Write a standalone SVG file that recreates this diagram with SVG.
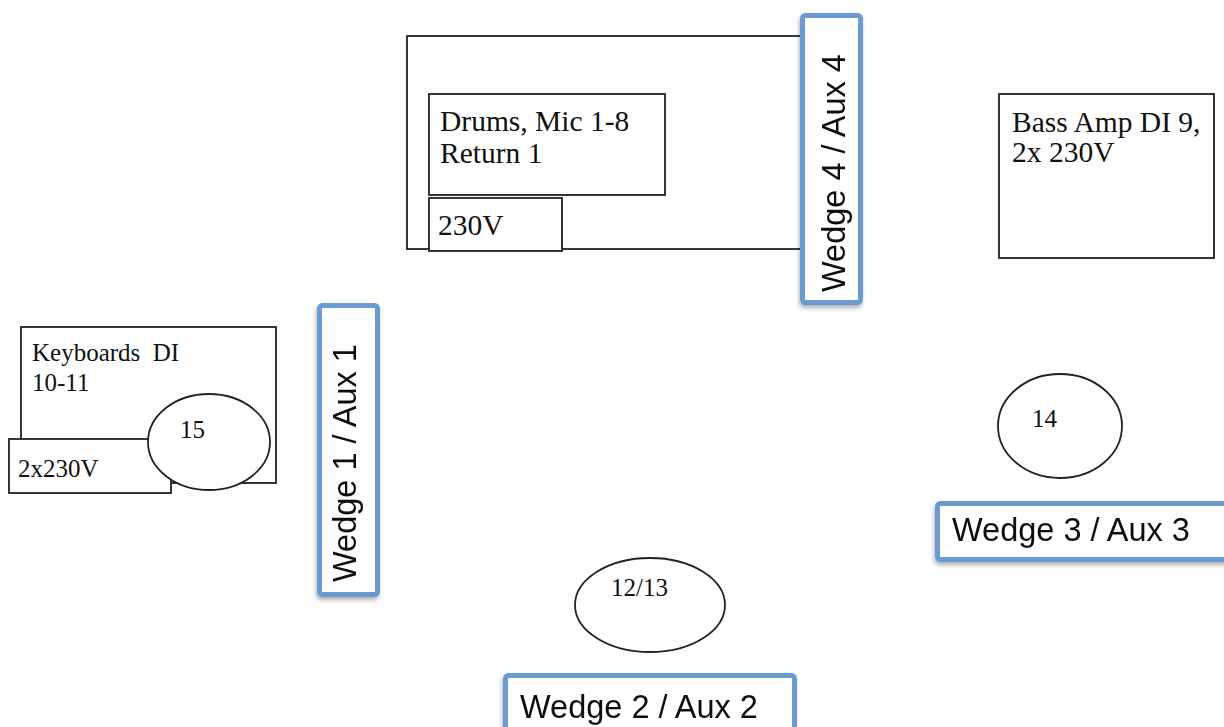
<svg xmlns="http://www.w3.org/2000/svg" width="1224" height="727" viewBox="0 0 1224 727">
<defs>
<filter id="sh" x="-20%" y="-20%" width="140%" height="140%">
<feDropShadow dx="-1" dy="3" stdDeviation="2" flood-color="#000" flood-opacity="0.3"/>
</filter>
</defs>
<style>
.box{fill:#fff;stroke:#222;stroke-width:1.8}
.wedge{fill:#fff;stroke:#6a9bd0;stroke-width:5}
.t{font-family:"Liberation Serif","Times New Roman",serif;font-size:29.5px;fill:#111}
.ts{font-family:"Liberation Serif","Times New Roman",serif;font-size:25px;fill:#111}
.w{font-family:"Liberation Sans",Arial,sans-serif;font-size:32.5px;fill:#111}
</style>
<rect width="1224" height="727" fill="#fff"/>
<g id="drums">
<rect class="box" x="407" y="36" width="420" height="213"/>
<rect class="box" x="429" y="94" width="236" height="101"/>
<text class="t" x="440" y="131">Drums, Mic 1-8</text>
<text class="t" x="440" y="163">Return 1</text>
<rect class="box" x="429" y="198" width="133" height="53"/>
<text class="t" x="438" y="235">230V</text>
</g>
<g id="wedge4" filter="url(#sh)">
<rect class="wedge" x="802.5" y="15.5" width="58" height="287" rx="3"/>
<text class="w" transform="translate(845 292) rotate(-90)">Wedge 4 / Aux 4</text>
</g>
<g id="bass">
<rect class="box" x="999" y="94" width="215" height="164"/>
<text class="t" x="1012" y="132">Bass Amp DI 9,</text>
<text class="t" x="1012" y="162">2x 230V</text>
</g>
<g id="keyboards">
<rect class="box" x="21" y="327" width="255" height="156"/>
<text class="ts" x="32" y="361" font-size="27" xml:space="preserve">Keyboards  DI</text>
<text class="ts" x="32" y="391">10-11</text>
<rect class="box" x="9" y="439" width="162" height="54"/>
<text class="ts" x="18" y="477" font-size="28.5">2x230V</text>
</g>
<g id="mon15">
<ellipse class="box" cx="209" cy="442" rx="61" ry="48"/>
<text class="ts" x="180" y="438">15</text>
</g>
<g id="wedge1" filter="url(#sh)">
<rect class="wedge" x="319.5" y="305.5" width="58" height="289" rx="3"/>
<text class="w" transform="translate(356 582) rotate(-90)">Wedge 1 / Aux 1</text>
</g>
<g id="mon14">
<ellipse class="box" cx="1060" cy="426" rx="62" ry="52"/>
<text class="ts" x="1032" y="427">14</text>
</g>
<g id="wedge3" filter="url(#sh)">
<rect class="wedge" x="937.5" y="503.5" width="300" height="56" rx="3"/>
<text class="w" x="952" y="541">Wedge 3 / Aux 3</text>
</g>
<g id="mon1213">
<ellipse class="box" cx="650" cy="605" rx="75" ry="47"/>
<text class="ts" x="611" y="596" font-size="27">12/13</text>
</g>
<g id="wedge2" filter="url(#sh)">
<rect class="wedge" x="505.5" y="675.5" width="289" height="70" rx="3"/>
<text class="w" x="520" y="718">Wedge 2 / Aux 2</text>
</g>
<g id="connectors"/>
</svg>
